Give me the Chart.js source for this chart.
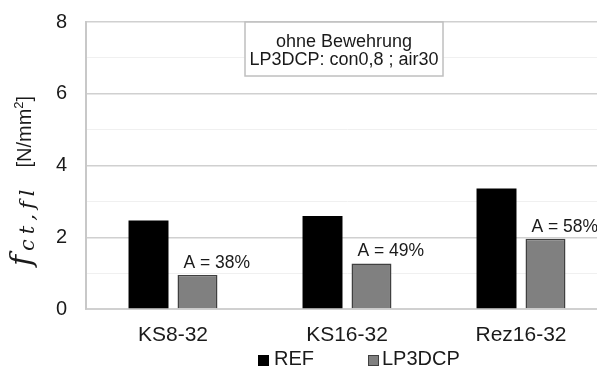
<!DOCTYPE html>
<html>
<head>
<meta charset="utf-8">
<script src="https://cdn.jsdelivr.net/npm/chart.js@4/dist/chart.umd.min.js"></script>
<style>
  html, body { margin: 0; padding: 0; background: #fff; overflow: hidden; }
  #frame { position: relative; width: 597px; height: 371px; overflow: hidden; }
  #box { position: absolute; left: 0; top: -9px; width: 612px; height: 380px; }
  .leg { position: absolute; top: 348px; font: 20px "Liberation Sans", Arial, sans-serif; line-height: 20px; color: #1a1a1a; white-space: nowrap; }
  .sq { position: absolute; top: 355px; width: 11px; height: 11px; box-sizing: border-box; }
</style>
</head>
<body>
<div id="frame">
  <div id="box"><canvas id="chart"></canvas></div>
  <div class="sq" style="left:258px;background:#000"></div>
  <div class="leg" style="left:274px">REF</div>
  <div class="sq" style="left:368px;background:#808080;border:1.5px solid #404040"></div>
  <div class="leg" style="left:382px">LP3DCP</div>
</div>
<script>
// data
const categories = ['KS8-32', 'KS16-32', 'Rez16-32']
const refValues = [2.47, 2.59, 3.36]
const lpValues = [0.95, 1.27, 1.96]
const ratioLabels = ['A = 38%', 'A = 49%', 'A = 58%']
const seriesNames = ['REF', 'LP3DCP']
const noteLines = ['ohne Bewehrung', 'LP3DCP: con0,8 ; air30']

const SANS = '"Liberation Sans", Arial, sans-serif'
const SERIF = '"DejaVu Serif", "Liberation Serif", serif'

// y axis title with math style f_ct,fl  (canvas is shifted 9px up)
const yTitle = {
    id: 'yTitle',
    afterDraw(chart) {
        const ctx = chart.ctx
        ctx.save()
        ctx.translate(31, 266 + 9)
        ctx.rotate(-Math.PI / 2)
        ctx.fillStyle = '#1a1a1a'
        ctx.textBaseline = 'alphabetic'
        ctx.textAlign = 'left'
        let x = 0
        ctx.font = 'italic 30px ' + SERIF
        ctx.fillText('f', x, 0)
        x += ctx.measureText('f').width + 4
        ctx.font = 'italic 21px ' + SERIF
        ctx.letterSpacing = '5px'
        ctx.fillText('ct,fl', x, 3)
        x += ctx.measureText('ct,fl').width
        ctx.letterSpacing = '0px'
        x += 17
        ctx.font = '20px ' + SANS
        ctx.fillText('[N/mm', x, 0)
        x += ctx.measureText('[N/mm').width
        ctx.font = '13px ' + SANS
        ctx.fillText('2', x, -8)
        x += ctx.measureText('2').width
        ctx.font = '20px ' + SANS
        ctx.fillText(']', x, 0)
        ctx.restore()
    }
}

// note box and ratio labels
const extras = {
    id: 'extras',
    afterDatasetsDraw(chart) {
        const ctx = chart.ctx
        const area = chart.chartArea
        ctx.save()
        const w = 198, h = 54
        const cx = (area.left + area.right) / 2 - 3
        ctx.fillStyle = '#fff'
        ctx.strokeStyle = '#bfbfbf'
        ctx.lineWidth = 1.5
        ctx.fillRect(cx - w / 2, area.top, w, h)
        ctx.strokeRect(cx - w / 2, area.top, w, h)
        ctx.fillStyle = '#1a1a1a'
        ctx.font = '18px ' + SANS
        ctx.textAlign = 'center'
        ctx.textBaseline = 'alphabetic'
        ctx.fillText(noteLines[0], cx, area.top + 25)
        ctx.fillText(noteLines[1], cx, area.top + 43)

        const meta = chart.getDatasetMeta(1)
        ctx.font = '17.5px ' + SANS
        ctx.textAlign = 'left'
        meta.data.forEach((bar, i) => {
            ctx.fillText(ratioLabels[i], bar.x - bar.width / 2 + 6, bar.y - 7)
        })
        ctx.restore()
    }
}

const config = {
    type: 'bar',
    data: {
        labels: categories,
        datasets: [{
            label: seriesNames[0],
            data: refValues,
            backgroundColor: '#000',
            borderWidth: 0,
            categoryPercentage: 0.563,
            barPercentage: 0.816
        }, {
            label: seriesNames[1],
            data: lpValues,
            backgroundColor: '#808080',
            borderColor: '#404040',
            borderWidth: 1.5,
            categoryPercentage: 0.563,
            barPercentage: 0.816
        }]
    },
    options: {
        responsive: true,
        maintainAspectRatio: false,
        animation: false,
        layout: { autoPadding: false, padding: { top: 0, right: 4, left: 0, bottom: 0 } },
        plugins: {
            legend: { display: false },
            tooltip: { enabled: false }
        },
        scales: {
            x: {
                grid: { display: false },
                border: { display: true, color: '#d0d0d0', width: 2 },
                ticks: { color: '#1a1a1a', font: { size: 21 }, padding: 6, maxRotation: 0 },
                afterFit(scale) { scale.height = 62 }
            },
            y: {
                min: 0,
                max: 8,
                ticks: {
                    stepSize: 1,
                    padding: 19,
                    color: '#1a1a1a',
                    font: { size: 20 },
                    callback: v => v % 2 === 0 ? v : ''
                },
                grid: {
                    drawTicks: false,
                    color: c => c.tick && c.tick.value % 2 === 0 ? '#d0d0d0' : '#f0f0f0',
                    lineWidth: c => c.tick && c.tick.value % 2 === 0 ? 1.5 : 1
                },
                border: { display: true, color: '#c8c8c8', width: 2 },
                afterFit(scale) { scale.width = 86 }
            }
        }
    },
    plugins: [yTitle, extras]
}

Chart.defaults.font.family = SANS
const mychart = new Chart(document.getElementById('chart'), config)
</script>
</body>
</html>
